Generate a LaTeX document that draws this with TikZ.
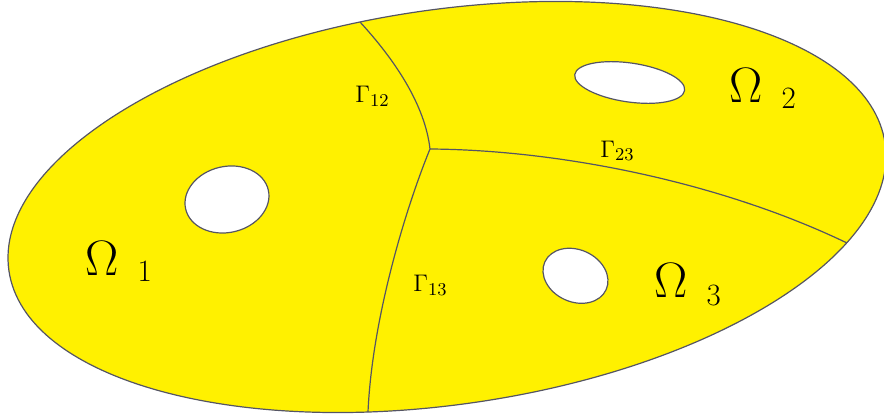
\documentclass[tikz,border=0pt]{standalone}
\definecolor{regionyellow}{RGB}{255,241,0}
\definecolor{edgegray}{RGB}{85,85,100}
\tikzset{
  edge/.style={draw=edgegray, line width=0.6pt},
  hole/.style={edge, fill=white},
  gammalabel/.style={anchor=base west, inner sep=0pt, font=\fontsize{12.5}{15}\selectfont},
  omegalabel/.style={anchor=base west, inner sep=0pt}
}
\newcommand{\omlab}[2]{{\Huge$\Omega$}\hspace{9.5pt}\raisebox{#2}{\fontsize{15.5}{18}\selectfont #1}}
\begin{document}
\begin{tikzpicture}[x=0.5pt,y=-0.5pt]
\useasboundingbox (0,0) rectangle (884,417);
% outer domain
\coordinate (C) at (447,207);
\path[edge, fill=regionyellow, rotate around={8.29:(C)}] (C) ellipse [x radius=442.7, y radius=197.4];
% holes
\coordinate (H1) at (227,199.5);
\coordinate (H2) at (629.7,82.5);
\coordinate (H3) at (575.5,275.8);
\path[hole, rotate around={12.9:(H1)}] (H1) ellipse [x radius=42.4, y radius=33.0];
\path[hole, rotate around={-8.2:(H2)}] (H2) ellipse [x radius=55.5, y radius=19.5];
\path[hole, rotate around={-24.3:(H3)}] (H3) ellipse [x radius=33.65, y radius=26.1];
% interfaces
\coordinate (T) at (430,149);
\coordinate (A) at (360,22);
\coordinate (B) at (368,412);
\coordinate (R) at (847,243);
\begin{scope}
\clip[rotate around={8.29:(C)}] (C) ellipse [x radius=442.7, y radius=197.4];
\draw[edge] (A) .. controls (395,60) and (425,105) .. (T);
\draw[edge] (T) .. controls (405,210) and (372,320) .. (B);
\draw[edge] (T) .. controls (560,150) and (720,182) .. (R);
\end{scope}
% labels
\node[gammalabel] (g12) at (355,102.7) {$\Gamma_{12}$};
\node[gammalabel] (g13) at (413,291.5) {$\Gamma_{13}$};
\node[gammalabel] (g23) at (600,157) {$\Gamma_{23}$};
\node[omegalabel] (o1) at (85,275) {\omlab{1}{-3.3pt}};
\node[omegalabel] (o2) at (729,103) {\omlab{2}{-2.9pt}};
\node[omegalabel] (o3) at (654,297) {\omlab{3}{-4pt}};
\end{tikzpicture}
\end{document}
